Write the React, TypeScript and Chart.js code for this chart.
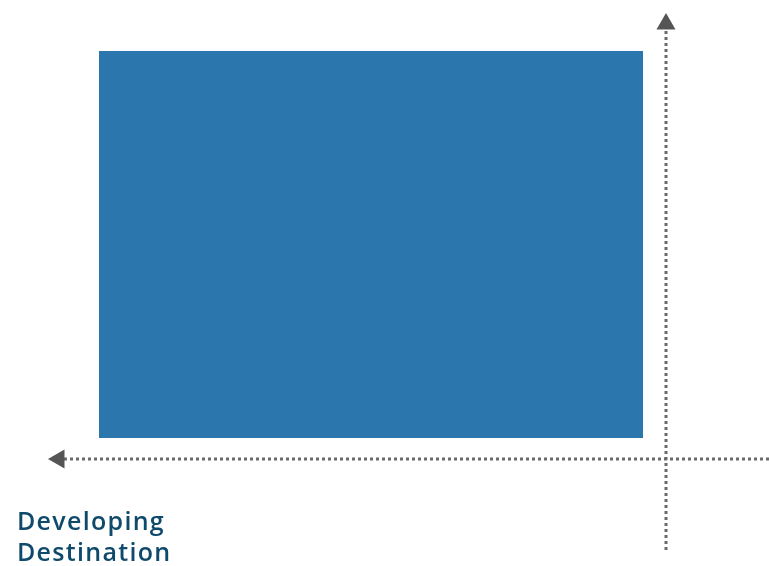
import React, { useEffect, useRef } from "react";
import { Chart, registerables } from "chart.js";

Chart.register(...registerables);

// Quadrant layout values (units: origin at the axes' crossing)
const xRange = [-6.66, 1.03];
const yRange = [-1.07, 4.59];
const boxX = [-5.67, -0.23];
const boxY = [0.21, 4.08];
const hAxisX = [1.03, -6.07];
const vAxisY = [-0.91, 4.35];
const labelLines = ["Developing", "Destination"];

export default function App() {
  const ref = useRef<HTMLCanvasElement | null>(null);
  useEffect(() => {
    if (!ref.current) return;
    const dot = "#6a6a6a";
    const chart = new Chart(ref.current, {
      type: "line",
      data: {
        datasets: [
          {
            label: "box",
            data: [
              { x: boxX[0], y: boxY[1] },
              { x: boxX[1], y: boxY[1] },
            ],
            borderWidth: 0,
            pointRadius: 0,
            backgroundColor: "#2a76ad",
            borderColor: "#2a76ad",
            fill: { value: boxY[0] },
          },
          {
            label: "h",
            data: [
              { x: hAxisX[0], y: 0 },
              { x: hAxisX[1], y: 0 },
            ],
            borderColor: dot,
            borderWidth: 3,
            borderDash: [3, 3],
            pointStyle: "triangle",
            pointRotation: -90,
            pointRadius: [0, 11],
            pointBackgroundColor: "#555",
            pointBorderWidth: 0,
            fill: false,
            clip: false,
          },
          {
            label: "v",
            data: [
              { x: 0, y: vAxisY[0] },
              { x: 0, y: vAxisY[1] },
            ],
            borderColor: dot,
            borderWidth: 3,
            borderDash: [3, 3],
            pointStyle: "triangle",
            pointRotation: 0,
            pointRadius: [0, 11],
            pointBackgroundColor: "#555",
            pointBorderWidth: 0,
            fill: false,
            clip: false,
          },
        ],
      },
      options: {
        animation: false,
        responsive: false,
        layout: { padding: 0, autoPadding: false },
        plugins: { legend: { display: false }, tooltip: { enabled: false }, title: { display: false } },
        scales: {
          x: { type: "linear", min: xRange[0], max: xRange[1], display: false },
          y: { type: "linear", min: yRange[0], max: yRange[1], display: false },
        },
      },
    });
    return () => chart.destroy();
  }, []);
  return (
    <div style={{ position: "absolute", left: 0, top: 0, width: 769, height: 566, background: "#fff", overflow: "hidden" }}>
      <canvas ref={ref} width={769} height={566} style={{ position: "absolute", left: 0, top: 0 }} />
      <div
        style={{
          position: "absolute",
          left: 17,
          top: 505,
          fontFamily: "'Open Sans', sans-serif",
          fontWeight: 600,
          fontSize: 25,
          letterSpacing: "1.3px",
          lineHeight: "31px",
          color: "#0f4a6c",
        }}
      >
        {labelLines.map((l) => (
          <div key={l}>{l}</div>
        ))}
      </div>
    </div>
  );
}
